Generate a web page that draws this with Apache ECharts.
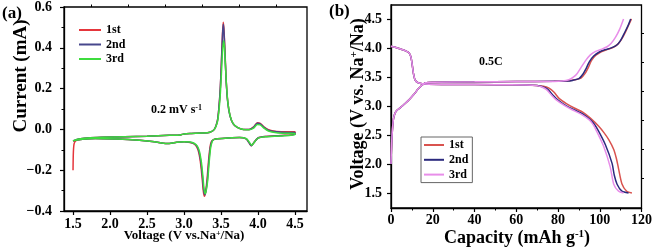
<!DOCTYPE html>
<html><head><meta charset="utf-8">
<script src="https://cdn.jsdelivr.net/npm/echarts@6/dist/echarts.min.js"></script>
<style>html,body{margin:0;padding:0;background:#fff}#c{width:655px;height:248px}</style>
</head><body><div id="c"></div>
<script>
// ---------- Panel (a): CV curves [voltage, current] ----------
const cv1 = [[1.5,-0.2],[1.505,-0.11],[1.515,-0.07],[1.54,-0.055],[1.6,-0.046],[1.7,-0.042],[1.9,-0.039],[2.2,-0.036],[2.5,-0.033],[2.8,-0.029],[2.95,-0.027],[3.0,-0.022],[3.1,-0.02],[3.25,-0.018],[3.35,-0.014],[3.41,0.0],[3.45,0.04],[3.47,0.1],[3.49,0.2],[3.505,0.33],[3.52,0.47],[3.53,0.525],[3.54,0.49],[3.555,0.37],[3.57,0.24],[3.59,0.14],[3.62,0.07],[3.66,0.03],[3.72,0.01],[3.8,0.0],[3.88,0.0],[3.94,0.012],[3.99,0.033],[4.03,0.03],[4.08,0.012],[4.14,-0.002],[4.25,-0.01],[4.4,-0.012],[4.5,-0.012],
  [4.5,-0.024],[4.3,-0.03],[4.1,-0.035],[4.0,-0.042],[3.95,-0.062],[3.91,-0.08],[3.88,-0.066],[3.84,-0.046],[3.75,-0.04],[3.6,-0.042],[3.45,-0.046],[3.4,-0.05],[3.37,-0.06],[3.35,-0.09],[3.33,-0.16],[3.31,-0.25],[3.29,-0.31],[3.275,-0.328],[3.26,-0.3],[3.245,-0.24],[3.225,-0.17],[3.2,-0.115],[3.17,-0.085],[3.13,-0.07],[3.08,-0.064],[3.0,-0.06],[2.9,-0.063],[2.8,-0.069],[2.72,-0.068],[2.6,-0.06],[2.4,-0.053],[2.1,-0.047],[1.8,-0.045],[1.6,-0.05],[1.5,-0.057]];
const cv2 = [[1.5,-0.056],[1.54,-0.05],[1.6,-0.046],[1.7,-0.042],[1.9,-0.039],[2.2,-0.036],[2.5,-0.033],[2.8,-0.029],[2.95,-0.027],[3.0,-0.022],[3.1,-0.02],[3.25,-0.018],[3.35,-0.014],[3.41,0.0],[3.45,0.04],[3.47,0.1],[3.49,0.2],[3.505,0.32],[3.52,0.46],[3.53,0.515],[3.54,0.48],[3.555,0.36],[3.57,0.235],[3.59,0.135],[3.62,0.068],[3.66,0.03],[3.72,0.01],[3.8,0.0],[3.88,0.0],[3.94,0.01],[3.99,0.03],[4.03,0.027],[4.08,0.01],[4.14,-0.004],[4.25,-0.012],[4.4,-0.015],[4.5,-0.015],
  [4.5,-0.025],[4.3,-0.031],[4.1,-0.035],[4.0,-0.042],[3.95,-0.062],[3.91,-0.08],[3.88,-0.066],[3.84,-0.046],[3.75,-0.04],[3.6,-0.042],[3.45,-0.046],[3.4,-0.05],[3.375,-0.06],[3.355,-0.09],[3.335,-0.16],[3.315,-0.25],[3.295,-0.305],[3.28,-0.32],[3.265,-0.295],[3.25,-0.235],[3.23,-0.165],[3.205,-0.112],[3.175,-0.083],[3.13,-0.069],[3.08,-0.063],[3.0,-0.06],[2.9,-0.063],[2.8,-0.069],[2.72,-0.068],[2.6,-0.06],[2.4,-0.053],[2.1,-0.047],[1.8,-0.045],[1.6,-0.05],[1.5,-0.056]];
const cv3 = [[1.5,-0.056],[1.54,-0.05],[1.6,-0.046],[1.7,-0.042],[1.9,-0.039],[2.2,-0.036],[2.5,-0.033],[2.8,-0.029],[2.95,-0.027],[3.0,-0.022],[3.1,-0.02],[3.25,-0.018],[3.35,-0.014],[3.41,0.0],[3.45,0.035],[3.47,0.085],[3.49,0.17],[3.505,0.27],[3.52,0.38],[3.535,0.435],[3.545,0.41],[3.56,0.31],[3.575,0.21],[3.595,0.125],[3.625,0.064],[3.665,0.028],[3.72,0.01],[3.8,0.0],[3.88,-0.002],[3.94,0.006],[3.99,0.024],[4.03,0.022],[4.08,0.006],[4.14,-0.008],[4.25,-0.016],[4.4,-0.019],[4.5,-0.02],
  [4.5,-0.026],[4.3,-0.032],[4.1,-0.036],[4.0,-0.043],[3.955,-0.06],[3.915,-0.078],[3.885,-0.064],[3.845,-0.046],[3.75,-0.04],[3.6,-0.042],[3.45,-0.046],[3.4,-0.05],[3.38,-0.06],[3.36,-0.09],[3.34,-0.16],[3.32,-0.25],[3.3,-0.3],[3.285,-0.315],[3.27,-0.29],[3.255,-0.23],[3.235,-0.162],[3.21,-0.11],[3.18,-0.082],[3.135,-0.068],[3.08,-0.062],[3.0,-0.06],[2.9,-0.063],[2.8,-0.069],[2.72,-0.068],[2.6,-0.06],[2.4,-0.053],[2.1,-0.047],[1.8,-0.045],[1.6,-0.05],[1.5,-0.056]];

// ---------- Panel (b): charge / discharge [capacity, voltage] ----------
const ch1 = [[0,2.0],[0.3,2.35],[0.7,2.6],[1.2,2.78],[2,2.88],[3,2.93],[4.5,2.97],[7,3.05],[9,3.12],[11,3.2],[13,3.29],[15,3.36],[16.5,3.4],[20,3.41],[40,3.415],[60,3.42],[78,3.425],[84,3.43],[88,3.45],[91,3.48],[93,3.56],[94.5,3.66],[96,3.78],[98,3.87],[100.5,3.93],[103.5,3.97],[106.5,4.01],[108.8,4.07],[110.5,4.15],[112.3,4.27],[113.8,4.39],[115.2,4.5]];
const ch2 = [[0,2.0],[0.3,2.35],[0.7,2.6],[1.2,2.78],[2,2.88],[3,2.93],[4.5,2.97],[7,3.05],[9,3.12],[11,3.2],[13,3.29],[15,3.36],[16.5,3.4],[20,3.41],[40,3.415],[60,3.42],[78,3.425],[84,3.428],[87,3.44],[90,3.47],[92,3.55],[93.4,3.64],[95,3.76],[97.1,3.86],[99.8,3.93],[102.7,3.97],[105.5,4.0],[108.2,4.05],[110,4.13],[112,4.27],[113.5,4.38],[114.8,4.5]];
const ch3 = [[0,2.0],[0.3,2.35],[0.7,2.6],[1.2,2.78],[2,2.88],[3,2.93],[4.5,2.97],[7,3.05],[9,3.12],[11,3.2],[13,3.29],[15,3.36],[16.5,3.4],[20,3.41],[40,3.415],[60,3.42],[78,3.423],[82,3.428],[85.2,3.45],[87.5,3.5],[89.2,3.56],[91,3.66],[93.2,3.78],[95.5,3.88],[98,3.94],[101,3.98],[103.5,4.02],[105.5,4.08],[107.5,4.18],[109.5,4.32],[111.4,4.5]];
const dc1 = [[0,4.03],[2,4.01],[4.5,3.98],[7,3.95],[8.5,3.92],[9.5,3.85],[10.2,3.7],[10.8,3.55],[11.5,3.45],[13,3.4],[16,3.38],[30,3.37],[50,3.365],[65,3.36],[70,3.35],[73,3.34],[75.5,3.31],[78,3.24],[80.5,3.13],[84,3.04],[88,2.96],[92,2.89],[95.5,2.79],[99.5,2.65],[102,2.54],[104.3,2.42],[106.7,2.25],[108,2.09],[109,1.92],[110.6,1.66],[112.9,1.53],[115.4,1.5]];
const dc2 = [[0,4.03],[2,4.01],[4.5,3.98],[7,3.95],[8.5,3.92],[9.5,3.85],[10.2,3.7],[10.8,3.55],[11.5,3.45],[13,3.4],[16,3.38],[30,3.37],[50,3.365],[65,3.36],[70,3.35],[72.5,3.33],[75,3.29],[77.5,3.19],[80,3.1],[84,3.0],[88,2.93],[92,2.86],[95.5,2.76],[97.5,2.68],[99.5,2.56],[102.7,2.33],[105.9,2.01],[107,1.8],[108.3,1.65],[110.6,1.53],[113.8,1.5]];
const dc3 = [[0,4.03],[2,4.01],[4.5,3.98],[7,3.95],[8.5,3.92],[9.5,3.85],[10.2,3.7],[10.8,3.55],[11.5,3.45],[13,3.4],[16,3.38],[30,3.37],[50,3.365],[65,3.36],[70,3.35],[72,3.33],[74.5,3.28],[77,3.18],[79,3.11],[83,3.01],[87,2.93],[91,2.86],[95,2.76],[97,2.67],[98.7,2.55],[101.9,2.3],[105,1.95],[106.7,1.65],[109,1.53],[111.4,1.5]];

// ---------- tick values ----------
const aXTicks = [1.5, 2.0, 2.5, 3.0, 3.5, 4.0, 4.5];
const aXMinor = [1.75, 2.25, 2.75, 3.25, 3.75, 4.25];
const bYTicks = [1.5, 2.0, 2.5, 3.0, 3.5, 4.0, 4.5];
const bYMinor = [1.75, 2.25, 2.75, 3.25, 3.75, 4.25];
const names = ['1st', '2nd', '3rd'];

const colA = ['#e5363c', '#47478c', '#3ddc3d'];
const colB = ['#d9534f', '#2b2a7e', '#e88ee9'];
const FF = '"Liberation Serif", "Times New Roman", serif';
const lab = {fontFamily: FF, fontWeight: 'bold', fontSize: 14, color: '#000'};
const axLine = {show: true, onZero: false, lineStyle: {color: '#000', width: 1.3}};

function fmt1(v){ return v.toFixed(1).replace('-', '\u2212'); }

const chart = echarts.init(document.getElementById('c'), null, {renderer: 'canvas'});
const line = (name, data, color, x, y) => ({
  type: 'line', name, data, xAxisIndex: x, yAxisIndex: y, symbol: 'none', smooth: 0.25,
  lineStyle: {color, width: 1.5}, itemStyle: {color}, animation: false, z: 3
});

chart.setOption({
  animation: false,
  grid: [
    {left: 64, top: 6, width: 243, height: 205, show: true, borderColor: '#000', borderWidth: 1.3, backgroundColor: 'transparent'},
    {left: 391, top: 5, width: 252, height: 203, show: true, borderColor: '#000', borderWidth: 1.3, backgroundColor: 'transparent'}
  ],
  xAxis: [
    {type: 'value', gridIndex: 0, min: 1.378, max: 4.662, axisLine: axLine,
      axisTick: {show: true, length: 4, customValues: aXTicks, lineStyle: {color: '#000', width: 1.2}},
      axisLabel: Object.assign({customValues: aXTicks, margin: 6, formatter: v => v.toFixed(1)}, lab),
      splitLine: {show: false}},
    {type: 'value', gridIndex: 0, min: 1.378, max: 4.662, axisLine: {show: false, onZero: false},
      axisTick: {show: true, length: 2.5, customValues: aXMinor, lineStyle: {color: '#000', width: 1}},
      axisLabel: {show: false}, splitLine: {show: false}},
    {type: 'value', gridIndex: 1, min: 0, max: 120, interval: 20, axisLine: axLine,
      axisTick: {show: true, length: 4, lineStyle: {color: '#000', width: 1.2}},
      minorTick: {show: true, splitNumber: 2, length: 2.5, lineStyle: {color: '#000', width: 1}},
      axisLabel: Object.assign({margin: 5}, lab), splitLine: {show: false}, minorSplitLine: {show: false}}
  ],
  yAxis: [
    {type: 'value', gridIndex: 0, min: -0.4, max: 0.6, interval: 0.2, axisLine: axLine,
      axisTick: {show: true, length: 4, lineStyle: {color: '#000', width: 1.2}},
      minorTick: {show: true, splitNumber: 2, length: 2.5, lineStyle: {color: '#000', width: 1}},
      axisLabel: Object.assign({margin: 12, formatter: fmt1}, lab), splitLine: {show: false}, minorSplitLine: {show: false}},
    {type: 'value', gridIndex: 1, min: 1.24, max: 4.74, axisLine: axLine,
      axisTick: {show: true, length: 4, customValues: bYTicks, lineStyle: {color: '#000', width: 1.2}},
      axisLabel: Object.assign({customValues: bYTicks, margin: 9, formatter: v => v.toFixed(1)}, lab),
      splitLine: {show: false}},
    {type: 'value', gridIndex: 1, min: 1.24, max: 4.74, axisLine: {show: false, onZero: false},
      axisTick: {show: true, length: 2.5, customValues: bYMinor, lineStyle: {color: '#000', width: 1}},
      axisLabel: {show: false}, splitLine: {show: false}}
  ],
  legend: [
    {data: names, left: 73, top: 19, orient: 'vertical', itemWidth: 22, itemHeight: 12, itemGap: 2.5,
      itemStyle: {opacity: 0},
      textStyle: {fontFamily: FF, fontWeight: 'bold', fontSize: 12, color: '#000'}, selectedMode: false},
    {data: names.map(n => 'b' + n), left: 421, top: 137, orient: 'vertical', itemWidth: 20, itemHeight: 12, itemGap: 2.8,
      itemStyle: {opacity: 0},
      padding: [2, 4, 2, 2], borderColor: '#666', borderWidth: 1,
      formatter: n => n.slice(1),
      textStyle: {fontFamily: FF, fontWeight: 'bold', fontSize: 12, color: '#000'}, selectedMode: false}
  ],
  series: [
    line('1st', cv1, colA[0], 0, 0),
    line('2nd', cv2, colA[1], 0, 0),
    line('3rd', cv3, colA[2], 0, 0),
    line('b1st', ch1, colB[0], 2, 1),
    line('b1st', dc1, colB[0], 2, 1),
    line('b2nd', ch2, colB[1], 2, 1),
    line('b2nd', dc2, colB[1], 2, 1),
    line('b3rd', ch3, colB[2], 2, 1),
    line('b3rd', dc3, colB[2], 2, 1)
  ],
  graphic: [
    {type: 'text', left: 2, top: 5, style: {text: '(a)', font: 'bold 17px ' + FF, fill: '#000'}},
    {type: 'text', left: 329, top: 3, style: {text: '(b)', font: 'bold 17px ' + FF, fill: '#000'}},
    {type: 'text', x: 21, y: 76, rotation: Math.PI / 2,
      style: {text: 'Current (mA)', font: 'bold 19px ' + FF, fill: '#000', align: 'center', verticalAlign: 'middle'}},
    {type: 'text', x: 184, y: 236,
      style: {text: '{t|Voltage (V vs.Na}{s|+}{t|/Na)}', align: 'center', verticalAlign: 'middle',
        rich: {t: {font: 'bold 13px ' + FF, fill: '#000'}, s: {font: 'bold 8px ' + FF, fill: '#000', verticalAlign: 'top', padding: [0, 0, 5, 0]}}}},
    {type: 'text', x: 358, y: 104, rotation: Math.PI / 2,
      style: {text: '{t|Voltage (V vs. Na}{s|+}{t|/Na)}', align: 'center', verticalAlign: 'middle',
        rich: {t: {font: 'bold 18px ' + FF, fill: '#000'}, s: {font: 'bold 11px ' + FF, fill: '#000', verticalAlign: 'top', padding: [0, 0, 7, 0]}}}},
    {type: 'text', x: 517, y: 238,
      style: {text: '{t|Capacity (mAh g}{s|-1}{t|)}', align: 'center', verticalAlign: 'middle',
        rich: {t: {font: 'bold 18px ' + FF, fill: '#000'}, s: {font: 'bold 11px ' + FF, fill: '#000', verticalAlign: 'top', padding: [0, 0, 7, 0]}}}},
    {type: 'text', x: 151, y: 110,
      style: {text: '{t|0.2 mV s}{s|-1}', verticalAlign: 'middle',
        rich: {t: {font: 'bold 12px ' + FF, fill: '#000'}, s: {font: 'bold 8px ' + FF, fill: '#000', verticalAlign: 'top', padding: [0, 0, 5, 0]}}}},
    {type: 'text', x: 479, y: 62,
      style: {text: '0.5C', font: 'bold 12px ' + FF, fill: '#000', verticalAlign: 'middle'}}
  ]
});
</script></body></html>
